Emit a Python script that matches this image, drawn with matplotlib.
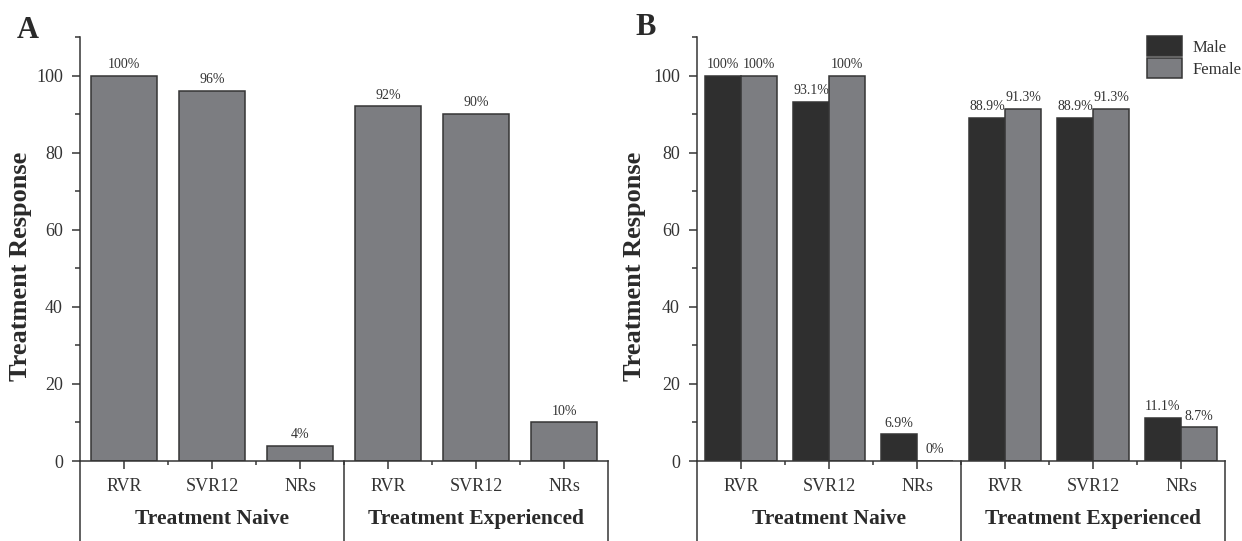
import numpy as np
import matplotlib
matplotlib.use("Agg")
import matplotlib.pyplot as plt
from matplotlib.lines import Line2D

plt.rcParams['font.family'] = ['Liberation Serif', 'DejaVu Serif']

# data
categories = ['RVR', 'SVR12', 'NRs', 'RVR', 'SVR12', 'NRs']
groups = ['Treatment Naive', 'Treatment Experienced']
overall = [100, 96, 4, 92, 90, 10]
overall_labels = ['100%', '96%', '4%', '92%', '90%', '10%']
male = [100, 93.1, 6.9, 88.9, 88.9, 11.1]
female = [100, 100, 0, 91.3, 91.3, 8.7]
male_labels = ['100%', '93.1%', '6.9%', '88.9%', '88.9%', '11.1%']
female_labels = ['100%', '100%', '0%', '91.3%', '91.3%', '8.7%']

W, H = 1242, 541
txt = '#333333'
edge = '#353535'
gray = '#7c7d81'
dark = '#2f2f2f'

fig = plt.figure(figsize=(W / 100, H / 100), dpi=100)


def px_axes(left, right, top, bottom):
    return fig.add_axes([left / W, 1 - bottom / H, (right - left) / W, (bottom - top) / H])


def style(ax):
    x = np.arange(len(categories))
    ax.set_xlim(-0.5, 5.5)
    ax.set_ylim(0, 110)
    for s in ['top', 'right']:
        ax.spines[s].set_visible(False)
    for s in ['left', 'bottom']:
        ax.spines[s].set_linewidth(1.1)
        ax.spines[s].set_color(edge)
    ax.set_yticks([0, 20, 40, 60, 80, 100])
    ax.set_yticks([10, 30, 50, 70, 90, 110], minor=True)
    ax.set_xticks(x)
    ax.set_xticks([0.5, 1.5, 2.5, 3.5, 4.5], minor=True)
    ax.set_xticklabels(categories)
    ax.tick_params(axis='y', which='major', length=5.8, width=1.1, pad=6.5,
                   labelsize=13, colors=edge, labelcolor=txt)
    ax.tick_params(axis='y', which='minor', length=3.6, width=1.1, colors=edge)
    ax.tick_params(axis='x', which='major', length=6, width=1.1, pad=6,
                   labelsize=13, colors=edge, labelcolor=txt)
    ax.tick_params(axis='x', which='minor', length=3.2, width=1.1, colors=edge)
    # group boxes under the axis
    for xs in [-0.5, 2.5, 5.5]:
        ax.add_line(Line2D([xs, xs], [0, -0.25], transform=ax.get_xaxis_transform(),
                           color=edge, lw=1.1, clip_on=False))
    for gx, g in zip([1, 4], groups):
        ax.text(gx, -0.1486, g, transform=ax.get_xaxis_transform(), ha='center',
                va='baseline', fontsize=15.5, fontweight='bold', color='#2a2a2a')
    ax.set_ylabel('Treatment Response', fontsize=19, fontweight='bold', color='#2a2a2a')


# panel A
axA = px_axes(80, 608, 37, 461)
xA = np.arange(len(categories))
axA.bar(xA, overall, width=0.74, color=gray, edgecolor=edge, linewidth=1.1, zorder=2)
for xi, v, s in zip(xA, overall, overall_labels):
    axA.annotate(s, (xi, v), xytext=(0, 3.5), textcoords='offset points',
                 ha='center', va='bottom', fontsize=10, color=txt)
style(axA)
axA.yaxis.set_label_coords(-0.09, 0.46)

# panel B
axB = px_axes(697, 1225, 37, 461)
xB = np.arange(len(categories))
bw = 0.41
axB.bar(xB - bw / 2, male, width=bw, color=dark, edgecolor=edge, linewidth=1.1,
        label='Male', zorder=2)
axB.bar(xB + bw / 2, female, width=bw, color=gray, edgecolor=edge, linewidth=1.1,
        label='Female', zorder=2)
for xi, v, s in zip(xB - bw / 2, male, male_labels):
    axB.annotate(s, (xi, v), xytext=(0, 3.5), textcoords='offset points',
                 ha='center', va='bottom', fontsize=10, color=txt)
for xi, v, s in zip(xB + bw / 2, female, female_labels):
    axB.annotate(s, (xi, v), xytext=(0, 3.5), textcoords='offset points',
                 ha='center', va='bottom', fontsize=10, color=txt)
style(axB)
axB.yaxis.set_label_coords(-0.096, 0.46)
leg = axB.legend(loc='upper left', bbox_to_anchor=(1147 / W, 1 - 36 / H),
                 bbox_transform=fig.transFigure, frameon=False, fontsize=12,
                 handlelength=2.1, handleheight=1.5, handletextpad=0.65,
                 labelspacing=0.09, borderpad=0, borderaxespad=0)
for t in leg.get_texts():
    t.set_color(txt)

# panel letters
fig.text(17 / W, 1 - 38 / H, 'A', fontsize=22, fontweight='bold', color='#2a2a2a',
         ha='left', va='baseline')
fig.text(635 / W, 1 - 35 / H, 'B', fontsize=22, fontweight='bold', color='#2a2a2a',
         ha='left', va='baseline')

fig.savefig('out.png', dpi=100)
